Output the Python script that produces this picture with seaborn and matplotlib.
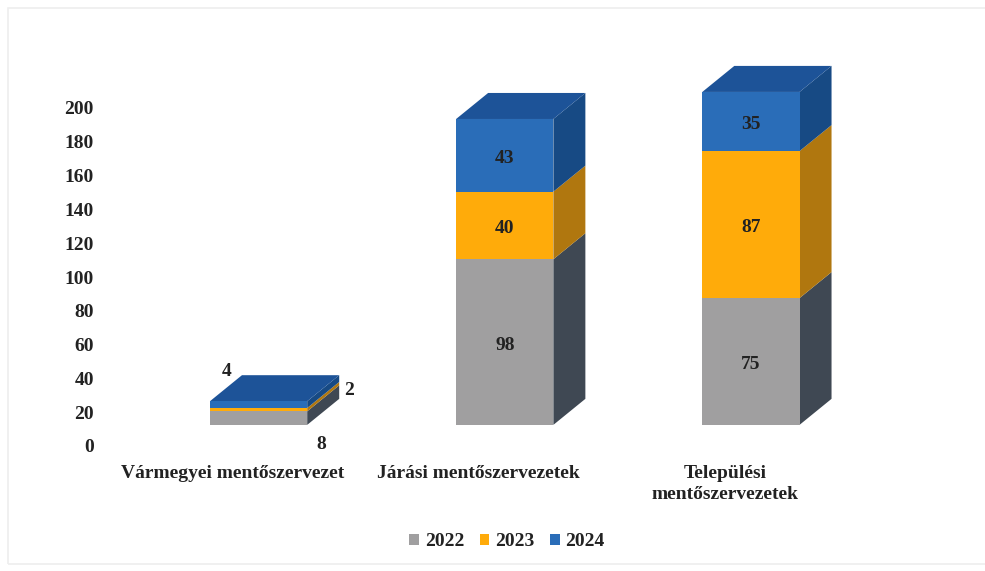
import matplotlib.pyplot as plt
import matplotlib.transforms as mtrans
import pandas as pd
import seaborn as sns
from matplotlib.patches import Patch, Polygon, Rectangle

orgs = ["Vármegyei mentőszervezet", "Járási mentőszervezetek", "Települési\nmentőszervezetek"]
years = ["2022", "2023", "2024"]
values_2022 = [8, 98, 75]
values_2023 = [2, 40, 87]
values_2024 = [4, 43, 35]
yticks = list(range(0, 201, 20))

front_colors = {"2022": "#a09fa0", "2023": "#ffab0a", "2024": "#2a6db8"}
side_colors = {"2022": "#3f4853", "2023": "#b0770f", "2024": "#174a84"}
top_color = "#1d5398"

W, H = 985, 571
FLOOR = 12.5  # front faces start above the zero line, as in a 3d chart
DEPTH_X = 0.13
DEPTH_Y = 15.4
TEXT = "#222222"

df = pd.DataFrame({
    "org": orgs * 3,
    "year": [y for y in years for _ in orgs],
    "value": values_2022 + values_2023 + values_2024,
})

sns.set_theme(style="white")
plt.rcParams["font.family"] = ["Liberation Serif", "DejaVu Serif"]
plt.rcParams["font.weight"] = "bold"

fig = plt.figure(figsize=(W / 100, H / 100), dpi=100, facecolor="white")
ax = fig.add_axes([135.5 / W, (H - 446) / H, 738.5 / W, 338 / H])
ax.patch.set_alpha(0)

bottoms = [FLOOR] * len(orgs)
for year in years:
    part = df[df["year"] == year]
    sns.barplot(data=part, x="org", y="value", color=front_colors[year], saturation=1,
                width=0.395, bottom=bottoms, errorbar=None, linewidth=0, ax=ax, zorder=3)
    bottoms = [b + v for b, v in zip(bottoms, part["value"])]

ax.set_xlim(-0.5, 2.5)
ax.set_ylim(0, 200)

# side faces and top are built from the bars seaborn drew
year_of_bar = [y for y in years for _ in orgs]
front_bars = list(ax.patches)
for bar, year in zip(front_bars, year_of_bar):
    x0, y0, w, h = bar.get_x(), bar.get_y(), bar.get_width(), bar.get_height()
    x1 = x0 + w
    ax.add_patch(Polygon([(x1, y0), (x1 + DEPTH_X, y0 + DEPTH_Y),
                          (x1 + DEPTH_X, y0 + h + DEPTH_Y), (x1, y0 + h)],
                         fc=side_colors[year], ec="none", clip_on=False, zorder=2))
    if year == years[-1]:
        ax.add_patch(Polygon([(x0, y0 + h), (x0 + DEPTH_X, y0 + h + DEPTH_Y),
                              (x1 + DEPTH_X, y0 + h + DEPTH_Y), (x1, y0 + h)],
                             fc=top_color, ec="none", clip_on=False, zorder=2))
    bar.set_clip_on(False)

# value labels: the two big columns in the middle, the flat one around the slab
for bar, value in zip(front_bars, df["value"]):
    cx = bar.get_x() + bar.get_width() / 2
    cy = bar.get_y() + bar.get_height() / 2
    if cx < 0.5:
        continue
    ax.annotate(str(value), (cx, cy), xytext=(0, -3), textcoords="offset pixels",
                ha="center", va="center", fontsize=14, color=TEXT, zorder=5)

small_offsets = {"2022": (63, -26), "2023": (90, 19), "2024": (-32, 33)}
for i, year in enumerate(years):
    bar = front_bars[i * len(orgs)]
    cx = bar.get_x() + bar.get_width() / 2
    cy = bar.get_y() + bar.get_height() / 2
    ax.annotate(str(df[df["year"] == year]["value"].iloc[0]), (cx, cy), xytext=small_offsets[year],
                textcoords="offset pixels", ha="center", va="center", fontsize=14,
                color=TEXT, annotation_clip=False, zorder=5)

ax.set_yticks(yticks)
ax.set_xlabel("")
ax.set_ylabel("")
ax.tick_params(axis="y", length=0, pad=30, labelsize=14, colors=TEXT)
ax.tick_params(axis="x", length=0, pad=14, labelsize=14, colors=TEXT)
sns.despine(ax=ax, left=True, bottom=True)
for label in ax.get_yticklabels():
    label.set_fontweight("bold")
shift = mtrans.ScaledTranslation(-26 / 100, 0, fig.dpi_scale_trans)
for label in ax.get_xticklabels():
    label.set_transform(label.get_transform() + shift)
    label.set_fontweight("bold")
    label.set_linespacing(1.3)

handles = [Patch(fc=front_colors[y], ec="none", label=y) for y in years]
fig.legend(handles=handles, loc="center", bbox_to_anchor=(507 / W, 1 - 542 / H), ncol=3,
           frameon=False, fontsize=14, handlelength=0.5, handleheight=0.5,
           handletextpad=0.3, columnspacing=0.8, labelcolor=TEXT)

# faint frame of the scanned page
fig.add_artist(Rectangle((8 / W, 1 - 564 / H), 980 / W, 556 / H, transform=fig.transFigure,
                         fc="none", ec="#eeeeee", lw=1.2, clip_on=False))

fig.savefig("out.png", dpi=100)
